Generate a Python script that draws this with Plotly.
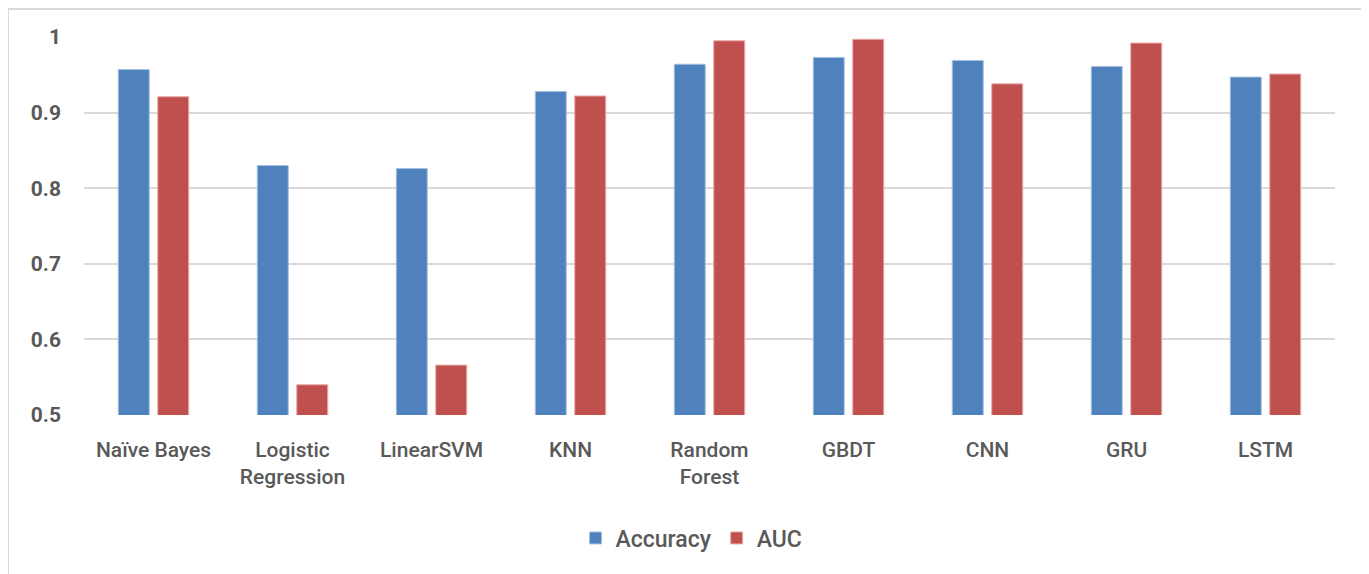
import plotly.graph_objects as go

categories = ["Naïve Bayes", "Logistic<br>Regression", "LinearSVM", "KNN", "Random<br>Forest",
              "GBDT", "CNN", "GRU", "LSTM"]
accuracy = [0.957, 0.830, 0.826, 0.928, 0.964, 0.973, 0.969, 0.961, 0.947]
auc = [0.921, 0.540, 0.566, 0.922, 0.995, 0.997, 0.938, 0.992, 0.951]
y_ticks = [0.5, 0.6, 0.7, 0.8, 0.9, 1.0]
y_tick_text = ["0.5", "0.6", "0.7", "0.8", "0.9", "1"]

# page body has an 8px margin, so the figure is sized to fit the 1369x574 window
W, H = 1361, 566
FONT = "Roboto, 'Open Sans', sans-serif"
GRAY = "#595959"

ML, MR, MT, MB = 76, 34, 29, 159
PW, PH = W - ML - MR, H - MT - MB

fig = go.Figure()
fig.add_trace(go.Bar(name="Accuracy", x=categories, y=accuracy,
                     marker=dict(color="#4F81BD", line=dict(color="#A7C0E0", width=1))))
fig.add_trace(go.Bar(name="AUC", x=categories, y=auc,
                     marker=dict(color="#C0504D", line=dict(color="#E8AAA8", width=1))))

fig.update_layout(
    width=W, height=H,
    barmode="group", bargap=0.432, bargroupgap=0.215,
    paper_bgcolor="white", plot_bgcolor="white",
    margin=dict(l=ML, r=MR, t=MT, b=MB, autoexpand=False),
    font=dict(family=FONT, color=GRAY, size=20),
    legend=dict(orientation="h", x=(683.5 - ML) / PW, xanchor="center", y=-123 / PH,
                yanchor="middle", font=dict(size=23, color=GRAY, weight=500),
                itemwidth=30, traceorder="normal"),
    xaxis=dict(showgrid=False, showline=False, ticks="", ticklabelstandoff=20,
               tickfont=dict(size=21, color=GRAY, weight=500), tickangle=0),
    yaxis=dict(range=[0.5, 1.0], tickvals=y_ticks, ticktext=y_tick_text,
               showgrid=True, gridcolor="#D9D9D9", gridwidth=1.5, zeroline=False,
               showline=False, ticks="", ticklabelstandoff=22,
               tickfont=dict(size=21, color=GRAY, weight="bold")),
    shapes=[dict(type="rect", xref="paper", yref="paper",
                 x0=-(ML - 0) / PW, x1=1 + (MR - 5) / PW, y0=-0.6, y1=1 + (MT - 1) / PH,
                 line=dict(color="#D9D9D9", width=2), fillcolor="rgba(0,0,0,0)", layer="below")],
)

fig.write_html("out.html")
